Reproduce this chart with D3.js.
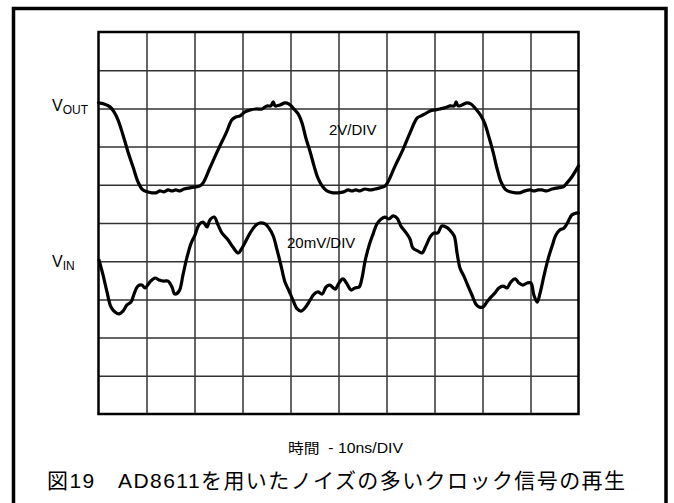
<!DOCTYPE html>
<html>
<head>
<meta charset="utf-8">
<script src="https://cdn.jsdelivr.net/npm/d3@7/dist/d3.min.js"></script>
<style>
  html, body { margin: 0; padding: 0; background: #fff; }
  svg { display: block; }
  text { font-family: "Liberation Sans", Arial, "Noto Sans CJK JP", sans-serif; fill: #000; }
</style>
</head>
<body>
<svg id="chart" width="674" height="503"></svg>
<script>
// ---- Data (time in ns, 10 ns/div; Vout in V, 2 V/div; Vin in mV, 20 mV/div) ----
const xDivs = 10;
const yDivs = 10;
const timePerDiv = 10;   // ns
const voutPerDiv = 2;    // V
const vinPerDiv = 20;    // mV

const voutTime = [0,1.15,2.4,3.23,4.06,5.1,6.15,7.19,8.23,9.06,10.1,11.15,11.98,12.8,13.65,14.5,15.3,16.1,17,17.8,19.06,20.3,21.15,21.8,23.2,24.9,26.6,27.8,28.6,29.5,30.5,31.6,32.8,34.06,35.1,35.9,36.4,36.8,37.8,38.85,39.7,40.5,41.6,42.4,43.2,44.1,44.9,45.7,46.6,47.6,48.85,49.9,51.1,52.0,52.8,53.6,54.5,55.5,56.6,57.6,58.6,59.7,60.3,61.8,63.4,64.9,66.4,67.2,68.0,69.1,70.1,71.1,72.2,73.2,74.1,74.5,74.9,75.7,76.8,77.6,78.6,79.7,80.5,81.4,82.2,83.0,83.85,84.7,85.7,87.0,87.8,88.85,89.9,90.7,91.6,92.4,93.4,94.5,95.7,96.8,97.6,98.6,100];
const voutValue = [4.61,4.55,4.40,4.14,3.72,2.93,2.04,1.26,0.47,0.10,-0.05,-0.10,-0.10,0,-0.05,0.05,0,0.05,0,0.10,0.16,0.21,0.26,0.42,1.20,2.15,3.04,3.72,3.87,3.93,4.14,4.24,4.29,4.29,4.45,4.45,4.66,4.45,4.50,4.61,4.55,4.35,4.03,3.56,2.77,2.04,1.31,0.68,0.26,0,-0.10,-0.10,-0.05,0.05,0,0.05,0,0.10,0.05,0.10,0.16,0.26,0.47,1.31,2.15,3.04,3.82,3.93,4.03,4.19,4.24,4.29,4.35,4.45,4.45,4.66,4.45,4.50,4.61,4.55,4.29,3.93,3.51,2.77,2.04,1.20,0.47,0.10,-0.05,-0.10,-0.10,0,0.05,0,0.05,0.05,0,0.10,0.16,0.21,0.42,0.73,1.31];

const vinTime = [0.1,0.94,1.77,2.6,3.44,4.27,5.1,5.94,6.77,7.4,8.23,9.06,9.69,10.7,11.8,12.6,13.65,14.5,15.3,15.9,16.8,17.6,18.4,19.3,20.1,20.9,21.8,22.6,23.2,24.1,24.9,25.7,27.0,28.0,29.1,29.9,30.7,31.6,32.6,33.6,34.7,35.5,36.4,37.2,38.0,38.85,39.7,40.5,41.4,42.2,43.0,44.1,44.9,45.7,46.6,47.4,48.2,49.3,50.1,50.9,51.8,52.6,53.4,54.3,54.9,55.5,56.4,57.2,58.0,58.9,59.7,60.5,61.4,62.2,63.0,64.1,64.9,65.5,66.6,67.4,68.2,69.1,69.9,70.7,71.5,72.4,73.2,74.1,74.7,75.3,76.1,76.9,77.8,78.6,79.3,80.1,80.9,81.8,82.6,83.4,84.3,85.1,85.9,86.8,87.6,88.4,89.3,90.1,90.7,91.4,92.0,92.8,93.6,94.5,95.3,96.1,97.0,97.8,98.6,99.5,100];
const vinValue = [0.6,-7.2,-16.1,-24.0,-26.6,-27.6,-26.1,-22.9,-21.4,-17.2,-13.0,-12.5,-14.0,-10.9,-8.8,-9.8,-10.4,-10.4,-13.5,-17.2,-15.6,-7.2,1.7,9.5,13.7,19.0,20.5,17.9,21.6,23.1,19.0,14.8,11.1,7.4,4.3,6.9,10.6,14.8,18.4,20.0,19.5,17.4,13.2,5.9,-2.0,-10.9,-15.6,-20.3,-25.0,-26.1,-24.5,-20.3,-17.2,-16.1,-17.2,-13.5,-12.5,-14.6,-11.4,-9.3,-12.0,-15.1,-14.0,-13.5,-8.8,-0.4,8.5,14.2,19.5,22.1,23.1,22.1,23.7,22.6,18.4,14.8,11.6,6.9,5.3,4.3,7.9,12.7,14.8,14.8,18.4,17.9,16.3,13.2,4.3,-3.5,-7.7,-12.5,-17.7,-22.4,-24.0,-24.0,-21.4,-18.7,-16.6,-14.0,-13.0,-14.0,-10.9,-9.3,-11.4,-12.5,-11.4,-11.4,-17.7,-21.4,-16.6,-7.7,0.6,7.9,13.7,16.3,17.4,20.5,24.2,25.2,25.2];

const labels = {
  vout: "V", voutSub: "OUT",
  vin: "V", vinSub: "IN",
  voutScale: "2V/DIV",
  vinScale: "20mV/DIV",
  xTitle: "時間  - 10ns/DIV",
  caption: "図19\u3000AD8611を用いたノイズの多いクロック信号の再生"
};

// ---- Layout ----
const svg = d3.select("#chart");
const plot = { left: 98.5, top: 32, right: 578.5, bottom: 414 };
const rowH = (plot.bottom - plot.top) / yDivs;

const x = d3.scaleLinear().domain([0, xDivs * timePerDiv]).range([plot.left, plot.right]);
const yDiv = d3.scaleLinear().domain([0, yDivs]).range([plot.bottom, plot.top]);
// Vout: 0 V sits 4.16 div below top; Vin: 0 mV sits on the 6th line from top
const voutZeroY = plot.top + 4.16 * rowH;
const vinZeroY = plot.top + 6 * rowH;
const yOut = d3.scaleLinear().domain([0, voutPerDiv]).range([voutZeroY, voutZeroY - rowH]);
const yIn = d3.scaleLinear().domain([0, vinPerDiv]).range([vinZeroY, vinZeroY - rowH]);

// outer frame
svg.append("rect")
  .attr("x", 13.5).attr("y", 8.5)
  .attr("width", 666 - 13.5).attr("height", 520)
  .attr("fill", "none").attr("stroke", "#000").attr("stroke-width", 3.5);

// grid via axes
const gx = d3.axisBottom(x).tickValues(d3.range(1, xDivs).map(d => d * timePerDiv))
  .tickSize(-(plot.bottom - plot.top)).tickFormat("");
const gy = d3.axisLeft(yDiv).tickValues(d3.range(1, yDivs))
  .tickSize(-(plot.right - plot.left)).tickFormat("");

const gxg = svg.append("g").attr("transform", `translate(0,${plot.bottom})`).call(gx);
const gyg = svg.append("g").attr("transform", `translate(${plot.left},0)`).call(gy);
[gxg, gyg].forEach(g => {
  g.select(".domain").remove();
  g.selectAll(".tick line").attr("stroke", "#333").attr("stroke-width", 1.5);
});

svg.append("rect")
  .attr("x", plot.left).attr("y", plot.top)
  .attr("width", plot.right - plot.left).attr("height", plot.bottom - plot.top)
  .attr("fill", "none").attr("stroke", "#000").attr("stroke-width", 2.5);

// traces
const lineOut = d3.line().x(d => x(d[0])).y(d => yOut(d[1])).curve(d3.curveCatmullRom.alpha(0.5));
const lineIn = d3.line().x(d => x(d[0])).y(d => yIn(d[1])).curve(d3.curveCatmullRom.alpha(0.5));

svg.append("path")
  .datum(voutTime.map((t, i) => [t, voutValue[i]]))
  .attr("d", lineOut)
  .attr("fill", "none").attr("stroke", "#000").attr("stroke-width", 3.2)
  .attr("stroke-linejoin", "round").attr("stroke-linecap", "round");

svg.append("path")
  .datum(vinTime.map((t, i) => [t, vinValue[i]]))
  .attr("d", lineIn)
  .attr("fill", "none").attr("stroke", "#000").attr("stroke-width", 3.2)
  .attr("stroke-linejoin", "round").attr("stroke-linecap", "round");

// labels
const vo = svg.append("text").attr("x", 52).attr("y", 111).attr("font-size", 16);
vo.append("tspan").text(labels.vout);
vo.append("tspan").attr("font-size", 12).attr("dy", 3).text(labels.voutSub);

const vi = svg.append("text").attr("x", 52).attr("y", 267).attr("font-size", 16);
vi.append("tspan").text(labels.vin);
vi.append("tspan").attr("font-size", 12).attr("dy", 3).text(labels.vinSub);

svg.append("text").attr("x", 329).attr("y", 135).attr("font-size", 15).text(labels.voutScale);
svg.append("text").attr("x", 287).attr("y", 248).attr("font-size", 15).text(labels.vinScale);

svg.append("text").attr("x", 288).attr("y", 453).attr("font-size", 14)
  .attr("textLength", 115).attr("lengthAdjust", "spacingAndGlyphs")
  .style("white-space", "pre")
  .text(labels.xTitle);

svg.append("text").attr("x", 47).attr("y", 488).attr("font-size", 21)
  .attr("textLength", 578).attr("lengthAdjust", "spacing")
  .style("white-space", "pre")
  .text(labels.caption);
</script>
</body>
</html>
